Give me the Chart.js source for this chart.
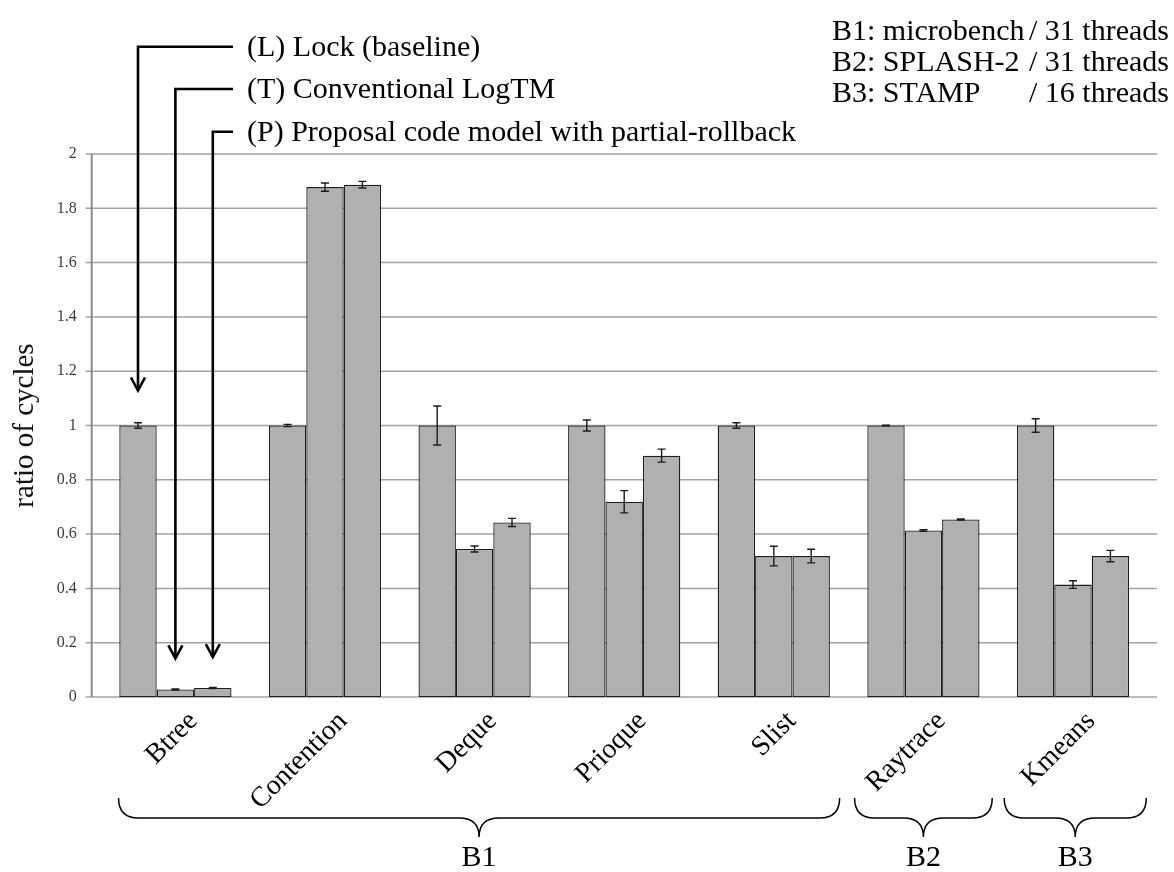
<!DOCTYPE html>
<html>
<head>
<meta charset="utf-8">
<script src="https://cdn.jsdelivr.net/npm/chart.js@4.4.1/dist/chart.umd.min.js"></script>
<style>
  html, body { margin: 0; padding: 0; background: #ffffff; }
  #wrap { width: 1174px; height: 872px; }
</style>
</head>
<body>
<div id="wrap"><canvas id="c" width="1174" height="872"></canvas></div>
<script>
// Benchmarks on the x axis
const categories = ['Btree', 'Contention', 'Deque', 'Prioque', 'Slist', 'Raytrace', 'Kmeans'];

// Ratio of cycles, normalised to the lock baseline
const lockValues     = [1.000, 1.000, 1.000, 1.000, 1.000, 1.000, 1.000];
const logtmValues    = [0.028, 1.878, 0.545, 0.719, 0.519, 0.613, 0.414];
const proposalValues = [0.033, 1.887, 0.643, 0.889, 0.519, 0.654, 0.519];

// Error bar half-widths (same units)
const lockErrors     = [0.010, 0.004, 0.072, 0.020, 0.010, 0.001, 0.025];
const logtmErrors    = [0.002, 0.015, 0.011, 0.041, 0.036, 0.003, 0.014];
const proposalErrors = [0.002, 0.012, 0.015, 0.024, 0.025, 0.002, 0.021];

// Y axis ticks
const yTicks = [0, 0.2, 0.4, 0.6, 0.8, 1, 1.2, 1.4, 1.6, 1.8, 2];

// Series captions with leader arrows
const seriesLabels = ['(L) Lock (baseline)', '(T) Conventional LogTM', '(P) Proposal code model with partial-rollback'];

// Benchmark suites, spans given in category units
const suiteNames = ['B1', 'B2', 'B3'];
const suiteFrom  = [-0.38, 4.54, 5.54];
const suiteTo    = [4.44, 5.46, 6.49];
const suiteNotes = [['B1: microbench', '/ 31 threads'], ['B2: SPLASH-2', '/ 31 threads'], ['B3: STAMP', '/ 16 threads']];

const SERIF = '"Liberation Serif", "Times New Roman", Times, serif';
const AXIS_X = 91.7;
const GRID_RIGHT = 1157;
const BIG_FONT = '30px ' + SERIF;

const errorSets = [lockErrors, logtmErrors, proposalErrors];

// Horizontal grid, y axis line and its tick marks, under the bars
const gridPlugin = {
  id: 'gridAndAxis',
  beforeDatasetsDraw(chart) {
    const { ctx } = chart;
    const y = chart.scales.y;
    ctx.save();
    ctx.strokeStyle = '#a3a3a3';
    ctx.lineWidth = 1.5;
    y.ticks.forEach(t => {
      const py = y.getPixelForValue(t.value);
      ctx.beginPath();
      ctx.moveTo(AXIS_X - 6, py);
      ctx.lineTo(GRID_RIGHT, py);
      ctx.stroke();
    });
    ctx.strokeStyle = '#8a8a8a';
    ctx.lineWidth = 2;
    ctx.beginPath();
    ctx.moveTo(AXIS_X, y.getPixelForValue(2));
    ctx.lineTo(AXIS_X, y.getPixelForValue(0));
    ctx.stroke();
    ctx.restore();
  }
};

// Error bars with short caps on every bar
const errorBarPlugin = {
  id: 'errorBars',
  afterDatasetsDraw(chart) {
    const { ctx } = chart;
    const y = chart.scales.y;
    ctx.save();
    ctx.strokeStyle = '#1c1c1c';
    ctx.lineWidth = 1.4;
    chart.data.datasets.forEach((ds, d) => {
      const meta = chart.getDatasetMeta(d);
      meta.data.forEach((bar, i) => {
        const v = ds.data[i];
        const e = errorSets[d][i];
        const top = y.getPixelForValue(v + e);
        const bot = y.getPixelForValue(v - e);
        ctx.beginPath();
        ctx.moveTo(bar.x, top); ctx.lineTo(bar.x, bot);
        ctx.moveTo(bar.x - 4, top); ctx.lineTo(bar.x + 4, top);
        ctx.moveTo(bar.x - 4, bot); ctx.lineTo(bar.x + 4, bot);
        ctx.stroke();
      });
    });
    ctx.restore();
  }
};

// Series captions, suite notes and suite braces
const annotationPlugin = {
  id: 'annotations',
  afterDraw(chart) {
    const { ctx } = chart;
    const x = chart.scales.x;
    ctx.save();

    const leaderY = [46.7, 89, 131.7];
    const tipGap = [35, 31, 31];
    ctx.strokeStyle = '#000';
    ctx.fillStyle = '#000';
    ctx.lineWidth = 2.6;
    ctx.lineJoin = 'miter';
    seriesLabels.forEach((label, d) => {
      const bar = chart.getDatasetMeta(d).data[0];
      const ax = bar.x;
      const tip = bar.y - tipGap[d];
      ctx.beginPath();
      ctx.moveTo(233, leaderY[d]);
      ctx.lineTo(ax, leaderY[d]);
      ctx.lineTo(ax, tip);
      ctx.stroke();
      ctx.beginPath();
      ctx.moveTo(ax - 7, tip - 13);
      ctx.lineTo(ax, tip);
      ctx.lineTo(ax + 7, tip - 13);
      ctx.stroke();
      ctx.font = BIG_FONT;
      ctx.textAlign = 'left';
      ctx.textBaseline = 'middle';
      ctx.fillText(label, 247, leaderY[d] + 1);
    });

    const noteY = [32, 63, 94];
    ctx.font = BIG_FONT;
    ctx.textBaseline = 'middle';
    suiteNotes.forEach((n, i) => {
      ctx.textAlign = 'left';
      ctx.fillText(n[0], 832, noteY[i]);
      ctx.textAlign = 'right';
      ctx.fillText(n[1], 1169, noteY[i]);
    });

    const yTop = 798, yFlat = 818, yTip = 837, r = 20;
    ctx.lineWidth = 1.5;
    suiteNames.forEach((name, i) => {
      const x0 = x.getPixelForValue(suiteFrom[i]);
      const x1 = x.getPixelForValue(suiteTo[i]);
      const xm = (x0 + x1) / 2;
      ctx.beginPath();
      ctx.moveTo(x0, yTop);
      ctx.quadraticCurveTo(x0, yFlat, x0 + r, yFlat);
      ctx.lineTo(xm - r, yFlat);
      ctx.quadraticCurveTo(xm, yFlat, xm, yTip);
      ctx.quadraticCurveTo(xm, yFlat, xm + r, yFlat);
      ctx.lineTo(x1 - r, yFlat);
      ctx.quadraticCurveTo(x1, yFlat, x1, yTop);
      ctx.stroke();
      ctx.font = BIG_FONT;
      ctx.textAlign = 'center';
      ctx.textBaseline = 'middle';
      ctx.fillText(name, xm, 858);
    });
    ctx.restore();
  }
};

const barStyle = {
  backgroundColor: '#b0b0b0',
  borderColor: '#1e1e1e',
  borderWidth: 1.3,
  borderSkipped: false,
  categoryPercentage: 0.75,
  barPercentage: 1.0
};

new Chart(document.getElementById('c'), {
  type: 'bar',
  data: {
    labels: categories,
    datasets: [
      Object.assign({ label: 'L', data: lockValues }, barStyle),
      Object.assign({ label: 'T', data: logtmValues }, barStyle),
      Object.assign({ label: 'P', data: proposalValues }, barStyle)
    ]
  },
  options: {
    responsive: false,
    devicePixelRatio: 1,
    animation: false,
    layout: { padding: { left: 0, right: 26.2, top: 154, bottom: 0 } },
    plugins: { legend: { display: false }, tooltip: { enabled: false } },
    scales: {
      x: {
        grid: { display: false, drawTicks: false },
        border: { display: false },
        ticks: {
          autoSkip: false,
          maxRotation: 45,
          minRotation: 45,
          padding: 8,
          labelOffset: 18,
          color: '#000',
          font: { family: SERIF, size: 28 }
        },
        afterFit(axis) { axis.height = 872 - 697; }
      },
      y: {
        min: 0,
        max: 2,
        afterBuildTicks(axis) { axis.ticks = yTicks.map(v => ({ value: v })); },
        grid: { display: false, drawTicks: false },
        border: { display: false },
        ticks: {
          padding: 23.9,
          color: '#3a3a3a',
          font: { family: SERIF, size: 16 },
          callback: v => String(Math.round(v * 10) / 10)
        },
        title: {
          display: true,
          text: 'ratio of cycles',
          color: '#111',
          font: { family: SERIF, size: 29 },
          padding: { top: 8, bottom: 0 }
        },
        afterFit(axis) { axis.width = 100.6; }
      }
    }
  },
  plugins: [gridPlugin, errorBarPlugin, annotationPlugin]
});
</script>
</body>
</html>
